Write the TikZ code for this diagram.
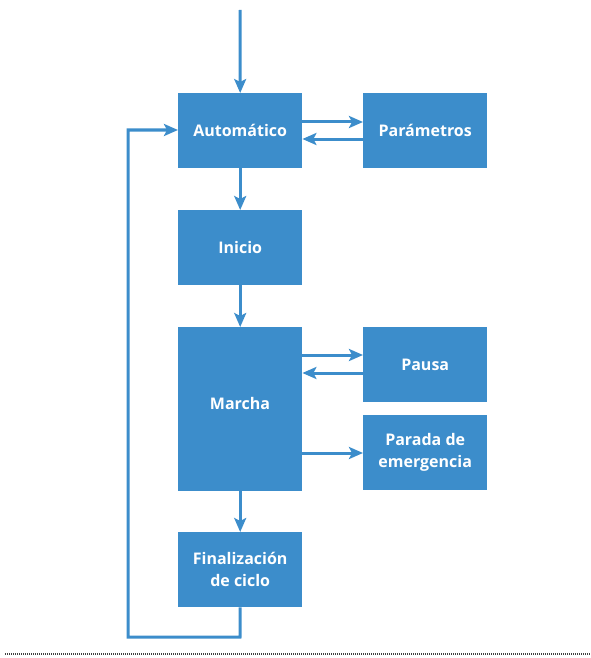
\documentclass[tikz,border=0pt]{standalone}
\usepackage{fontspec}
\setmainfont{Open Sans}
\usetikzlibrary{arrows.meta}
\definecolor{boxblue}{HTML}{3C8DCB}
\tikzset{
  blk/.style={fill=boxblue, draw=none, minimum width=124pt, minimum height=75pt, inner sep=0pt,
    text=white, font=\fontsize{16}{22}\selectfont\bfseries, align=center, anchor=north west},
  conn/.style={draw=boxblue, line width=3pt, -{Stealth[length=14pt,width=12pt,inset=3pt]}},
}
\begin{document}
\begin{tikzpicture}[x=1pt,y=-1pt]
\useasboundingbox (0,0) rectangle (591,658);
\node[blk] (auto) at (178,93) {Automático};
\node[blk] (param) at (363,93) {Parámetros};
\node[blk] (ini) at (178,210) {Inicio};
\node[blk, minimum height=164pt] (mar) at (178,327) {};
\node[text=white, font=\fontsize{16}{22}\selectfont\bfseries] (martxt) at (240,403) {Marcha};
\node[blk] (pau) at (363,327) {Pausa};
\node[blk] (par) at (363,415) {Parada de\\emergencia};
\node[blk] (fin) at (178,532) {Finalización\\de ciclo};
\coordinate (top) at (240,10);
\coordinate (c1) at (240,637);
\coordinate (c2) at (128,637);
\coordinate (c3) at (128,130);
\draw[conn] (top) -- (auto.north);
\draw[conn] (auto.east |- 0,122) -- (param.west |- 0,122);
\draw[conn] (param.west |- 0,139) -- (auto.east |- 0,139);
\draw[conn] (auto.south) -- (ini.north);
\draw[conn] (ini.south) -- (mar.north);
\draw[conn] (mar.east |- 0,355) -- (pau.west |- 0,355);
\draw[conn] (pau.west |- 0,373) -- (mar.east |- 0,373);
\draw[conn] (mar.east |- 0,453) -- (par.west |- 0,453);
\draw[conn] (mar.south) -- (fin.north);
\draw[conn] (fin.south) -- (c1) -- (c2) -- (c3) -- (auto.west |- c3);
\draw[black!75, line width=2.5pt, dash pattern=on 1pt off 1pt] (5,654) -- (591,654);
\end{tikzpicture}
\end{document}
